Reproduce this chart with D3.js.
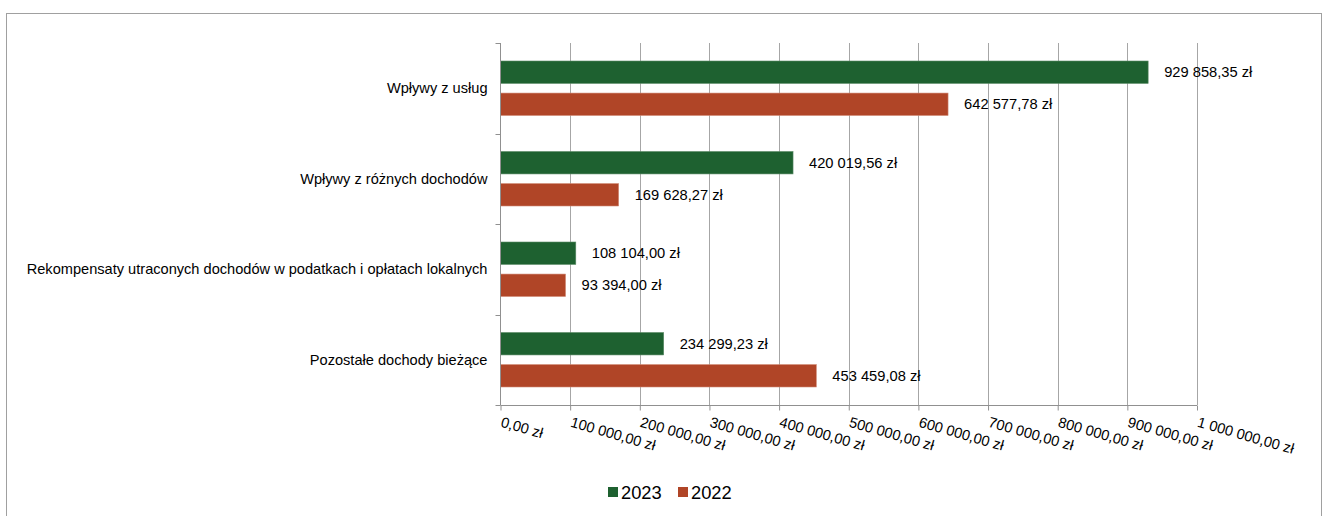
<!DOCTYPE html>
<html>
<head>
<meta charset="utf-8">
<script src="https://cdn.jsdelivr.net/npm/d3@7"></script>
<style>
  body { margin: 0; background: #fff; }
  svg { font-family: "Liberation Sans", Arial, sans-serif; }
</style>
</head>
<body>
<svg id="chart" width="1323" height="516"></svg>
<script>
var categories = ["Wpływy z usług", "Wpływy z różnych dochodów",
  "Rekompensaty utraconych dochodów w podatkach i opłatach lokalnych",
  "Pozostałe dochody bieżące"]
var values2023 = [929858.35, 420019.56, 108104.00, 234299.23]
var values2022 = [642577.78, 169628.27, 93394.00, 453459.08]
var seriesNames = ["2023", "2022"]
var colors = ["#1e6130", "#b04527"]
var xTicks = [0, 100000, 200000, 300000, 400000, 500000, 600000, 700000, 800000, 900000, 1000000]

function fmt(v) {
  var parts = v.toFixed(2).split(".")
  var intPart = parts[0].replace(/\B(?=(\d{3})+(?!\d))/g, " ")
  return intPart + "," + parts[1] + " zł"
}

var svg = d3.select("#chart")

// frame
svg.append("rect")
  .attr("x", 6.5).attr("y", 13.5)
  .attr("width", 1315).attr("height", 520)
  .attr("fill", "none").attr("stroke", "#a0a0a0")

var pLeft = 500.5, pRight = 1197, pTop = 43, pBottom = 405

var x = d3.scaleLinear().domain([0, 1000000]).range([pLeft, pRight])
var y = d3.scaleBand().domain(categories).range([pTop, pBottom])
var inner = d3.scaleBand().domain(seriesNames).range([18, y.bandwidth() - 18]).paddingInner(0.3)

// gridlines
svg.append("g").selectAll("line").data(xTicks.slice(1)).enter().append("line")
  .attr("x1", function(d){ return Math.round(x(d)) + 0.5 })
  .attr("x2", function(d){ return Math.round(x(d)) + 0.5 })
  .attr("y1", pTop).attr("y2", pBottom)
  .attr("stroke", "#a6a6a6").attr("stroke-width", 1)

var rows = [values2023, values2022]
var g = svg.append("g")
rows.forEach(function(vals, si) {
  g.selectAll(".s" + si).data(categories).enter().append("rect")
    .attr("x", pLeft)
    .attr("y", function(d){ return y(d) + inner(seriesNames[si]) })
    .attr("width", function(d, i){ return x(vals[i]) - pLeft })
    .attr("height", inner.bandwidth())
    .attr("fill", colors[si])
    .attr("stroke", si == 0 ? "#5a8a66" : "#d08a76")
    .attr("stroke-width", 0.6)

  g.selectAll(".l" + si).data(categories).enter().append("text")
    .attr("x", function(d, i){ return x(vals[i]) + 16 })
    .attr("y", function(d){ return y(d) + inner(seriesNames[si]) + inner.bandwidth() / 2 })
    .attr("dy", "0.35em")
    .attr("font-size", 14.7)
    .attr("fill", "#000")
    .text(function(d, i){ return fmt(vals[i]) })
})

// y axis
var yAxis = svg.append("g").attr("transform", "translate(" + pLeft + ",0)")
yAxis.append("line").attr("x1", 0).attr("x2", 0).attr("y1", pTop).attr("y2", pBottom)
  .attr("stroke", "#909090")
var yTickPos = [pTop].concat(categories.map(function(c){ return y(c) + y.bandwidth() }))
yAxis.selectAll(".yt").data(yTickPos).enter().append("line")
  .attr("x1", -5).attr("x2", 0)
  .attr("y1", function(d){ return Math.round(d) + 0.5 })
  .attr("y2", function(d){ return Math.round(d) + 0.5 })
  .attr("stroke", "#909090")
yAxis.selectAll(".yl").data(categories).enter().append("text")
  .attr("x", -13)
  .attr("y", function(d){ return y(d) + y.bandwidth() / 2 })
  .attr("dy", "0.35em")
  .attr("text-anchor", "end")
  .attr("font-size", 14.6)
  .attr("fill", "#000")
  .text(function(d){ return d })

// x axis
var xAxis = svg.append("g").attr("transform", "translate(0," + (pBottom + 0.5) + ")")
  .call(d3.axisBottom(x).tickValues(xTicks).tickSize(5).tickFormat(fmt))
xAxis.select(".domain").attr("stroke", "#909090").attr("d", "M" + pLeft + ",0H" + pRight)
xAxis.selectAll(".tick line").attr("stroke", "#909090")
xAxis.selectAll(".tick text")
  .attr("font-size", 14.6)
  .attr("font-family", "Liberation Sans, Arial, sans-serif")
  .attr("fill", "#000")
  .attr("text-anchor", "start")
  .attr("y", 0).attr("dy", 0)
  .attr("transform", "translate(-1,21) rotate(16)")

// legend
var legend = svg.append("g").attr("transform", "translate(608,492)")
var lx = [0, 70]
seriesNames.forEach(function(s, i) {
  legend.append("rect").attr("x", lx[i]).attr("y", -5).attr("width", 10).attr("height", 10)
    .attr("fill", colors[i])
  legend.append("text").attr("x", lx[i] + 13).attr("y", 0).attr("dy", "0.36em")
    .attr("font-size", 18.3).attr("fill", "#000").text(s)
})
</script>
</body>
</html>
